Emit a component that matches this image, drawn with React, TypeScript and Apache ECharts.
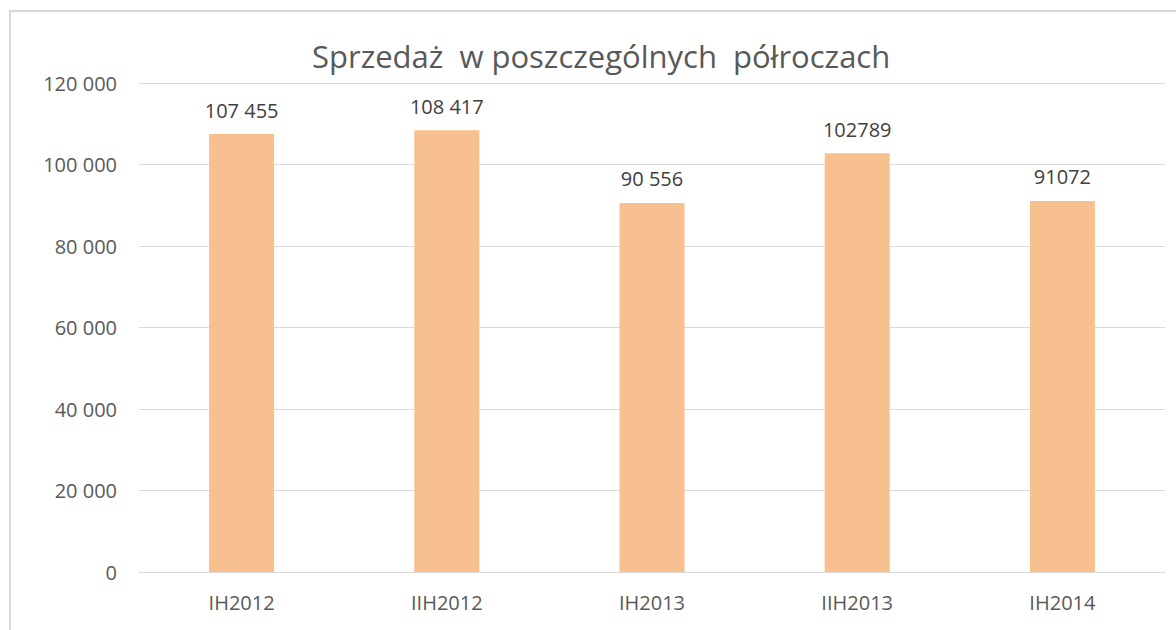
import React, { useEffect, useRef } from "react";
import * as echarts from "echarts";

const categories = ["IH2012", "IIH2012", "IH2013", "IIH2013", "IH2014"];
const values = [107455, 108417, 90556, 102789, 91072];
const valueLabels = ["107 455", "108 417", "90 556", "102789", "91072"];
const yTicks = { min: 0, max: 120000, interval: 20000 };
const titleText = "Sprzedaż  w poszczególnych  półroczach";

const FONT = "'Open Sans', sans-serif";

export default function App() {
  const ref = useRef<HTMLDivElement>(null);
  useEffect(() => {
    if (!ref.current) return;
    const chart = echarts.init(ref.current, undefined, { renderer: "svg" });
    chart.setOption({
      animation: false,
      backgroundColor: "#ffffff",
      textStyle: { fontFamily: FONT },
      title: {
        text: titleText,
        left: 307,
        top: 35,
        textStyle: { fontSize: 31, fontWeight: "normal", color: "#595959", fontFamily: FONT },
      },
      graphic: [
        {
          type: "rect",
          shape: { x: 10, y: 11, width: 1200, height: 700 },
          style: { fill: "none", stroke: "#d9d9d9", lineWidth: 2 },
          silent: true,
        },
      ],
      grid: { left: 139, right: 11, top: 83, bottom: 58, containLabel: false },
      xAxis: {
        type: "category",
        data: categories,
        axisTick: { show: false },
        axisLine: { lineStyle: { color: "#d9d9d9", width: 1 } },
        axisLabel: { color: "#595959", fontSize: 20, margin: 20, fontFamily: FONT },
      },
      yAxis: {
        type: "value",
        min: yTicks.min,
        max: yTicks.max,
        interval: yTicks.interval,
        axisLine: { show: false },
        axisTick: { show: false },
        splitLine: { lineStyle: { color: "#d9d9d9", width: 1 } },
        axisLabel: {
          color: "#595959",
          fontSize: 20,
          margin: 22,
          fontFamily: FONT,
          formatter: (v: number) => String(v).replace(/\B(?=(\d{3})+(?!\d))/g, " "),
        },
      },
      series: [
        {
          type: "bar",
          data: values,
          barWidth: 65,
          itemStyle: { color: "#F9C08F" },
          label: {
            show: true,
            position: "top",
            distance: 14,
            color: "#404040",
            fontSize: 20,
            fontFamily: FONT,
            formatter: (p: any) => valueLabels[p.dataIndex],
          },
        },
      ],
    });
    return () => chart.dispose();
  }, []);
  return (
    <div
      ref={ref}
      style={{ position: "absolute", left: 0, top: 0, width: 1176, height: 630 }}
    />
  );
}
